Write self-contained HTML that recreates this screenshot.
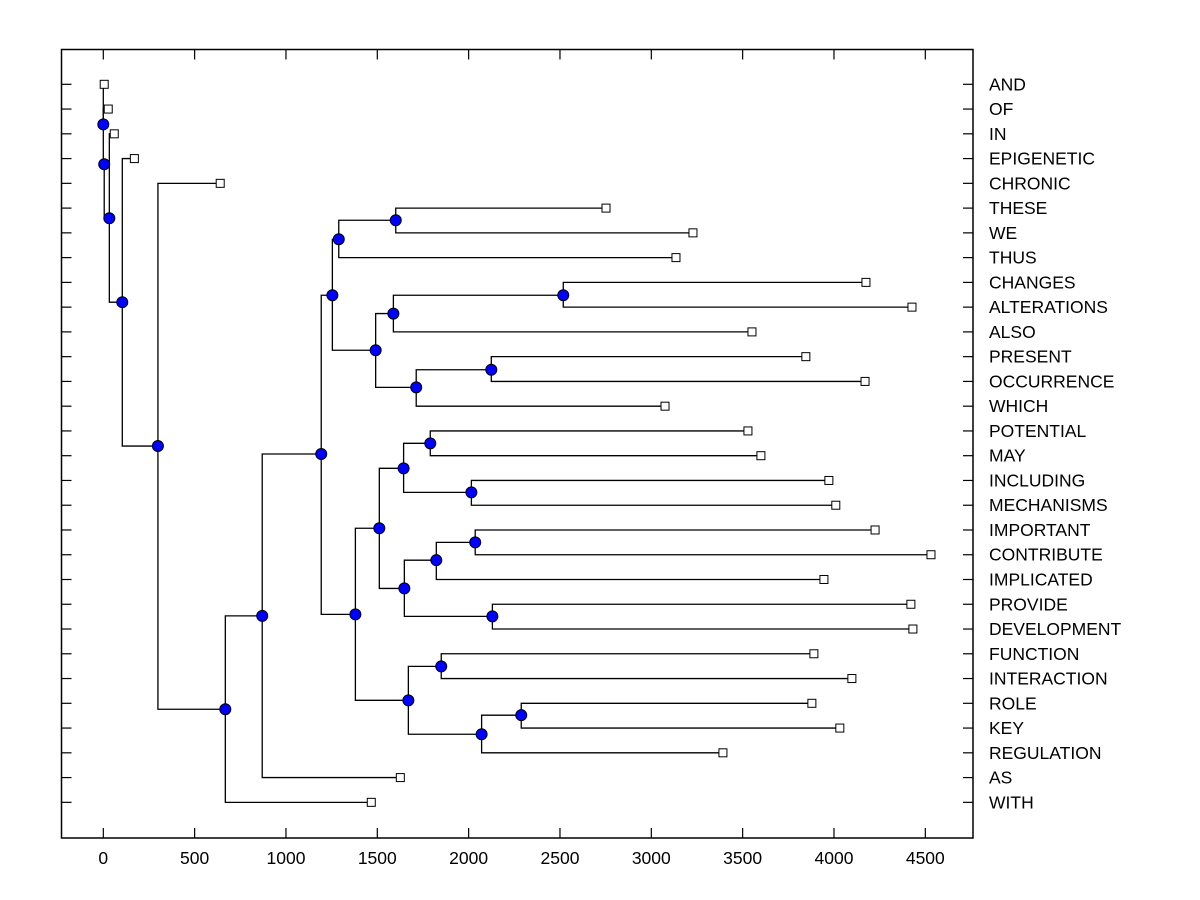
<!DOCTYPE html>
<html><head><meta charset="utf-8"><style>
html,body{margin:0;padding:0;background:#fff;}
svg{display:block;font-family:"Liberation Sans",Arial,sans-serif;}
</style></head><body>
<svg id="chart" width="1200" height="900" viewBox="0 0 1200 900"></svg>
<script>
const leafNames=["AND","OF","IN","EPIGENETIC","CHRONIC","THESE","WE","THUS","CHANGES","ALTERATIONS","ALSO","PRESENT","OCCURRENCE","WHICH","POTENTIAL","MAY","INCLUDING","MECHANISMS","IMPORTANT","CONTRIBUTE","IMPLICATED","PROVIDE","DEVELOPMENT","FUNCTION","INTERACTION","ROLE","KEY","REGULATION","AS","WITH"];
const leafValues=[5,27,60,170,640,2752,3228,3135,4175,4427,3551,3846,4170,3075,3529,3600,3972,4010,4225,4531,3945,4421,4432,3890,4098,3879,4032,3392,1626,1467];
const nodeIds=["n1","n2","n3","n4","n5","root","n6","I","C","B","A","D","E","G","F","H","J","K","M","O","P","N","Q","S","R","L","T","U","V"];
const nodeValues=[0,5,33,104,299,668,870,1193,1254,1289,1601,1491,1588,2518,1713,2124,1380,1511,1644,1790,2015,1648,1823,2036,2130,1670,1850,2071,2288];
const nodeRows=[1.62,3.23,5.41,8.80,14.61,25.24,21.47,14.93,8.52,6.26,5.49,10.74,9.26,8.52,12.24,11.53,21.41,17.93,15.51,14.50,16.48,20.36,19.22,18.50,21.49,24.88,23.51,26.25,25.48];
const edgeChild=["AND","OF","n1","n2","IN","n3","EPIGENETIC","n4","CHRONIC","n5","n6","WITH","I","AS","C","J","B","D","A","THUS","THESE","WE","E","F","G","ALSO","CHANGES","ALTERATIONS","H","WHICH","PRESENT","OCCURRENCE","K","L","M","N","O","P","POTENTIAL","MAY","INCLUDING","MECHANISMS","Q","R","S","IMPLICATED","IMPORTANT","CONTRIBUTE","PROVIDE","DEVELOPMENT","T","U","FUNCTION","INTERACTION","V","REGULATION","ROLE","KEY"];
const edgeParent=["n1","n1","n2","n3","n3","n4","n4","n5","n5","root","root","root","n6","n6","I","I","C","C","B","B","A","A","D","D","E","E","G","G","F","F","H","H","J","J","K","K","M","M","O","O","P","P","N","N","Q","Q","S","S","R","R","L","L","T","T","U","U","V","V"];
const xTicks=[0,500,1000,1500,2000,2500,3000,3500,4000,4500];

const L=61.5,R=973,T=49.5,B=838;
const xs=v=>103.3+v*0.18267;
const ys=r=>84.3+r*24.76;
const NS="http://www.w3.org/2000/svg";
const svg=document.getElementById('chart');
function mk(tag,attrs){const e=document.createElementNS(NS,tag);for(const k in attrs)e.setAttribute(k,attrs[k]);svg.appendChild(e);return e;}

const frame=mk('rect',{x:L,y:T,width:R-L,height:B-T,fill:'none',stroke:'#000','stroke-width':1.5});



xTicks.forEach(v=>{
  const x=xs(v);
  const t1=mk('line',{x1:x,y1:B,x2:x,y2:B-10,stroke:'#000','stroke-width':1.2});
  
  
  const t2=mk('line',{x1:x,y1:T,x2:x,y2:T+10,stroke:'#000','stroke-width':1.2});
  
  
  const tx=mk('text',{x:x,y:864,'text-anchor':'middle','font-size':17.5});
  tx.textContent=v;
  
  
});

const pos={};
leafNames.forEach((n,i)=>{pos[n]={x:xs(leafValues[i]),y:ys(i),leaf:true};});
nodeIds.forEach((n,i)=>{pos[n]={x:xs(nodeValues[i]),y:ys(nodeRows[i]),leaf:false};});

leafNames.forEach((n,i)=>{
  const y=ys(i);
  const a=mk('line',{x1:L,y1:y,x2:L+10,y2:y,stroke:'#000','stroke-width':1.2});
  
  
  const b=mk('line',{x1:R,y1:y,x2:R-10,y2:y,stroke:'#000','stroke-width':1.2});
  
  
  const t=mk('text',{x:989,y:y+6,'font-size':17.5});
  t.textContent=n;
  
  
});

edgeChild.forEach((c,i)=>{
  const p=pos[edgeParent[i]],q=pos[c];
  let cx,cy;
  if(q.x>p.x){cx=p.x;cy=q.y;}else{cx=q.x;cy=p.y;}
  const pl=mk('polyline',{points:`${q.x},${q.y} ${cx},${cy} ${p.x},${p.y}`,fill:'none',stroke:'#000','stroke-width':1.3});
  
  
});

nodeIds.forEach(n=>{
  const p=pos[n];
  const c=mk('circle',{cx:p.x,cy:p.y,r:5.5,fill:'#0000ff',stroke:'#000','stroke-width':1});
  
  
});
leafNames.forEach(n=>{
  const p=pos[n];
  const s=mk('rect',{x:p.x-4,y:p.y-4,width:8,height:8,fill:'#fff',stroke:'#000','stroke-width':1});
  
  
});
</script>
</body></html>
